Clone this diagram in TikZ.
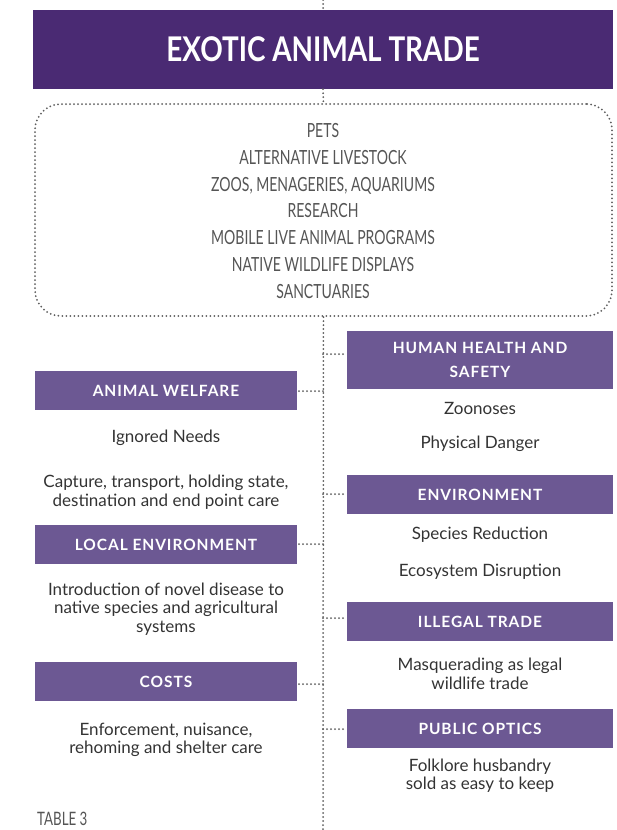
\documentclass[tikz,border=0pt]{standalone}
\usepackage{fontspec}
\setmainfont{Lato}
\newfontfamily\titlefont[FakeStretch=0.82]{Lato}
\newfontfamily\headfont[LetterSpace=6]{Lato}
\newfontfamily\listfont[FakeStretch=0.72]{Lato}
\definecolor{titlepurple}{HTML}{4A2A73}
\definecolor{boxpurple}{HTML}{6C5893}
\definecolor{dotgray}{HTML}{5E5E5E}
\definecolor{bodytext}{HTML}{333333}
\definecolor{listtext}{HTML}{555555}
\begin{document}
\begin{tikzpicture}[x=1pt,y=-1pt,
  dotline/.style={draw=dotgray,line width=2pt,line cap=round,dash pattern=on 0pt off 4pt},
  headbox/.style={fill=boxpurple,text=white,inner sep=0pt,align=center,font=\headfont\bfseries\fontsize{15.5}{23.5}\selectfont},
  bodytxt/.style={text=bodytext,align=center,font=\fontsize{17}{18.5}\selectfont},
  listtxt/.style={text=listtext,align=center,font=\listfont\fontsize{19.5}{26.7}\selectfont}]
\useasboundingbox (0,0) rectangle (617,830);
% title
\node[fill=titlepurple,minimum width=580pt,minimum height=79pt,inner sep=0pt,text=white,font=\titlefont\bfseries\fontsize{34}{35}\selectfont] (title) at (323,49.5) {EXOTIC ANIMAL TRADE};
\coordinate (top) at (323,0);
\draw[dotline] (top) -- (title.north);
% list box
\node[dotline,rounded corners=26pt,minimum width=577pt,minimum height=212pt,inner sep=0pt] (list) at (323.5,210) {};
\node[listtxt] (listtext) at (323,211) {PETS\\ALTERNATIVE LIVESTOCK\\ZOOS, MENAGERIES, AQUARIUMS\\RESEARCH\\MOBILE LIVE ANIMAL PROGRAMS\\NATIVE WILDLIFE DISPLAYS\\SANCTUARIES};
\draw[dotline] (title.south) -- (list.north);
\coordinate (bottom) at (323,830);
\draw[dotline] (list.south) -- (bottom);
% right boxes
\node[headbox,minimum width=266pt,minimum height=58pt] (hhs) at (480,360) {HUMAN HEALTH AND\\SAFETY};
\node[headbox,minimum width=266pt,minimum height=39pt] (env) at (480,494.5) {ENVIRONMENT};
\node[headbox,minimum width=266pt,minimum height=39pt] (ill) at (480,621.5) {ILLEGAL TRADE};
\node[headbox,minimum width=266pt,minimum height=39pt] (pub) at (480,728.5) {PUBLIC OPTICS};
% left boxes
\node[headbox,minimum width=262pt,minimum height=39pt] (aw) at (166,390.5) {ANIMAL WELFARE};
\node[headbox,minimum width=262pt,minimum height=39pt] (le) at (166,544.5) {LOCAL ENVIRONMENT};
\node[headbox,minimum width=262pt,minimum height=39pt] (co) at (166,681.5) {COSTS};
% connectors
\coordinate (jhhs) at (323,354);
\coordinate (jenv) at (323,494);
\coordinate (jill) at (323,618);
\coordinate (jpub) at (323,729);
\coordinate (jaw) at (323,391);
\coordinate (jle) at (323,544);
\coordinate (jco) at (323,684);
\draw[dotline] (jhhs) -- (jhhs -| hhs.west);
\draw[dotline] (jenv) -- (jenv -| env.west);
\draw[dotline] (jill) -- (jill -| ill.west);
\draw[dotline] (jpub) -- (jpub -| pub.west);
\draw[dotline] (jaw) -- (jaw -| aw.east);
\draw[dotline] (jle) -- (jle -| le.east);
\draw[dotline] (jco) -- (jco -| co.east);
% body texts right
\node[bodytxt] (t1) at (480,408) {Zoonoses};
\node[bodytxt] (t2) at (480,444) {Physical Danger};
\node[bodytxt] (t3) at (480,535) {Species Reduction};
\node[bodytxt] (t4) at (480,572) {Ecosystem Disruption};
\node[bodytxt] (t5) at (480,674) {Masquerading as legal\\wildlife trade};
\node[bodytxt] (t6) at (480,775.5) {Folklore husbandry\\sold as easy to keep};
% body texts left
\node[bodytxt] (t7) at (166,438) {Ignored Needs};
\node[bodytxt] (t8) at (166,492) {Capture, transport, holding state,\\destination and end point care};
\node[bodytxt] (t9) at (166,609) {Introduction of novel disease to\\native species and agricultural\\systems};
\node[bodytxt] (t10) at (166,740) {Enforcement, nuisance,\\rehoming and shelter care};
% table label
\node[text=listtext,anchor=west,inner sep=0pt,font=\listfont\fontsize{18.5}{19}\selectfont] (tab) at (37,819) {TABLE 3};
\end{tikzpicture}
\end{document}
